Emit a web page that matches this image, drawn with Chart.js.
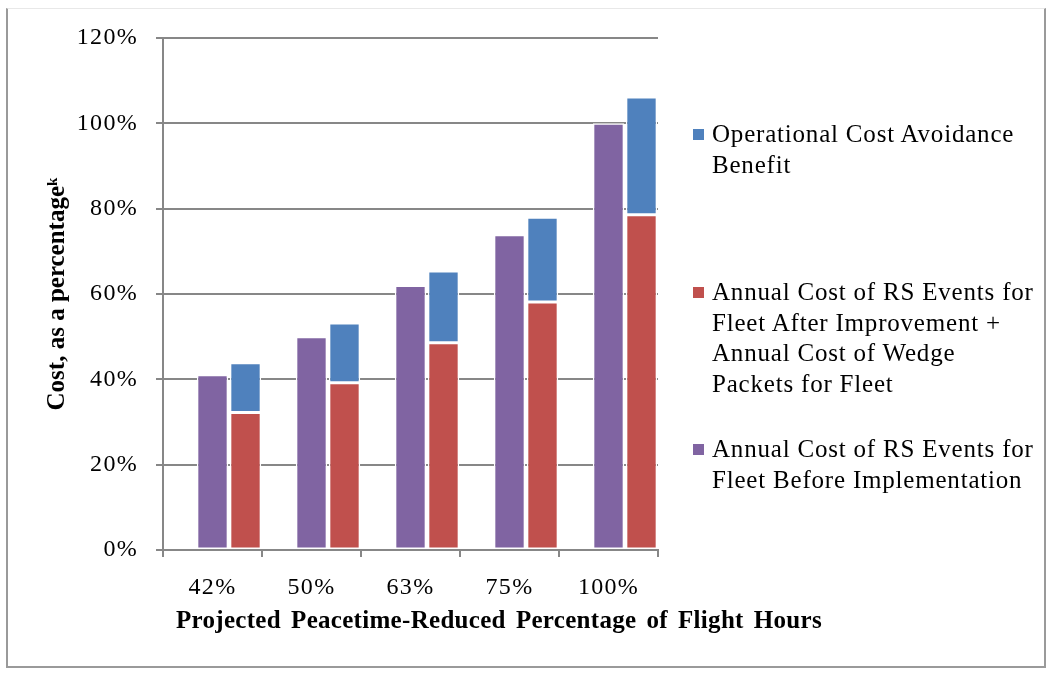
<!DOCTYPE html>
<html>
<head>
<meta charset="utf-8">
<script src="https://cdn.jsdelivr.net/npm/chart.js@4.4.1/dist/chart.umd.min.js"></script>
<style>
  html, body { margin: 0; padding: 0; background: #fff; }
  #wrap { position: relative; width: 1049px; height: 674px; }
  #frame {
    position: absolute; left: 6px; top: 8px; width: 1040px; height: 660px;
    border-left: 2px solid #9a9a9a; border-right: 2px solid #9a9a9a;
    border-bottom: 2px solid #9a9a9a; border-top: 1px solid #e8e8e8;
    box-sizing: border-box; pointer-events: none;
  }
  .item {
    position: absolute; left: 693px; padding-left: 19px; white-space: nowrap;
    font-family: "Liberation Serif", "Times New Roman", serif; font-size: 25px;
    letter-spacing: 0.8px; line-height: 30.5px; color: #000;
  }
  .item .sw { position: absolute; left: 0; top: 10px; width: 11px; height: 11px; }
  #xtitle {
    position: absolute; left: 176px; top: 605px; width: 646px;
    font-family: "Liberation Serif", "Times New Roman", serif; font-size: 25px;
    font-weight: bold; letter-spacing: 0.3px; line-height: 30px; color: #000;
    white-space: nowrap; text-align: justify; text-align-last: justify;
  }
</style>
</head>
<body>
<div id="wrap">
  <canvas id="chart" width="1049" height="674"></canvas>
  <div id="xtitle"></div>
  <div id="legend"></div>
  <div id="frame"></div>
</div>
<script>
// categories and series (values in percent)
const categories = ["42%", "50%", "63%", "75%", "100%"];
const beforeImpl = [41.1, 50.0, 62.0, 73.9, 100.0];
const afterImpr = [32.2, 39.2, 48.6, 58.1, 78.6];
const avoidance = [11.7, 14.0, 16.8, 19.9, 27.6];
const yTicks = [0, 20, 40, 60, 80, 100, 120];

const labelBefore = "Annual Cost of RS Events for Fleet Before Implementation";
const labelAfter = "Annual Cost of RS Events for Fleet After Improvement + Annual Cost of Wedge Packets for Fleet";
const labelAvoid = "Operational Cost Avoidance Benefit";
const xTitle = "Projected Peacetime-Reduced Percentage of Flight Hours";
const yTitle = "Cost, as a percentage\u1D4F";

const blue = "#4F81BD", red = "#C0504D", purple = "#8064A2";
const gridColor = "#878787";
const serif = "'Liberation Serif', 'Times New Roman', serif";

// the original tick labels are set a bit wide, so space their letters out
const spacedTicks = {
    id: "spacedTicks",
    beforeDraw(chart) {
        Object.values(chart.scales).forEach(s => {
            if (s._spaced) return;
            const orig = s.drawLabels.bind(s);
            s.drawLabels = area => {
                chart.ctx.save();
                chart.ctx.letterSpacing = "1.3px";
                orig(area);
                chart.ctx.restore();
            };
            s._spaced = true;
        });
    }
};

const ctx = document.getElementById("chart").getContext("2d");
const chart = new Chart(ctx, {
    type: "bar",
    plugins: [spacedTicks],
    data: {
        labels: categories,
        datasets: [
            // empty slot so the bar pair sits in the right part of each category
            { label: "_pad", data: categories.map(() => null), stack: "pad" },
            { label: labelBefore, data: beforeImpl, backgroundColor: purple, stack: "before" },
            { label: labelAfter, data: afterImpr, backgroundColor: red, stack: "after" },
            { label: labelAvoid, data: avoidance, backgroundColor: blue, stack: "after" }
        ]
    },
    options: {
        responsive: false,
        animation: false,
        layout: { padding: { left: 0, top: 38, right: 391, bottom: 0 } },
        datasets: {
            bar: {
                categoryPercentage: 1.0,
                barPercentage: 0.95,
                borderColor: "#ffffff",
                borderWidth: 1.5,
                borderSkipped: false
            }
        },
        plugins: {
            legend: { display: false },
            tooltip: { enabled: false }
        },
        scales: {
            x: {
                stacked: true,
                afterFit: s => { s.height = 124; },
                grid: {
                    offset: true,
                    drawOnChartArea: false,
                    color: gridColor,
                    lineWidth: 2,
                    tickLength: 7
                },
                border: { color: gridColor, width: 2 },
                ticks: {
                    color: "#000",
                    padding: 16,
                    font: { family: serif, size: 24 }
                }
            },
            y: {
                stacked: true,
                min: 0,
                max: 120,
                afterFit: s => { s.width = 163; },
                afterBuildTicks: s => { s.ticks = yTicks.map(v => ({ value: v })); },
                grid: {
                    color: gridColor,
                    lineWidth: 2,
                    tickLength: 7
                },
                border: { color: gridColor, width: 2 },
                ticks: {
                    color: "#000",
                    padding: 18,
                    font: { family: serif, size: 24 },
                    callback: v => v + "%"
                },
                title: {
                    display: true,
                    text: yTitle,
                    color: "#000",
                    padding: { top: 43, bottom: 0 },
                    font: { family: serif, size: 25, weight: "bold" }
                }
            }
        }
    }
});

// x-axis title as HTML: the canvas title would be squeezed to the plot width
document.getElementById("xtitle").textContent = xTitle;

// legend drawn as HTML so the long labels break like the original
const legendItems = [
    { lines: ["Operational Cost Avoidance", "Benefit"], color: blue, top: 119 },
    { lines: ["Annual Cost of RS Events for", "Fleet After Improvement +", "Annual Cost of Wedge", "Packets for Fleet"], color: red, top: 277 },
    { lines: ["Annual Cost of RS Events for", "Fleet Before Implementation"], color: purple, top: 434 }
];
const legendEl = document.getElementById("legend");
legendItems.forEach(it => {
    const div = document.createElement("div");
    div.className = "item";
    div.style.top = it.top + "px";
    const sw = document.createElement("span");
    sw.className = "sw";
    sw.style.background = it.color;
    div.appendChild(sw);
    it.lines.forEach((line, i) => {
        if (i) div.appendChild(document.createElement("br"));
        div.appendChild(document.createTextNode(line));
    });
    legendEl.appendChild(div);
});
</script>
</body>
</html>
